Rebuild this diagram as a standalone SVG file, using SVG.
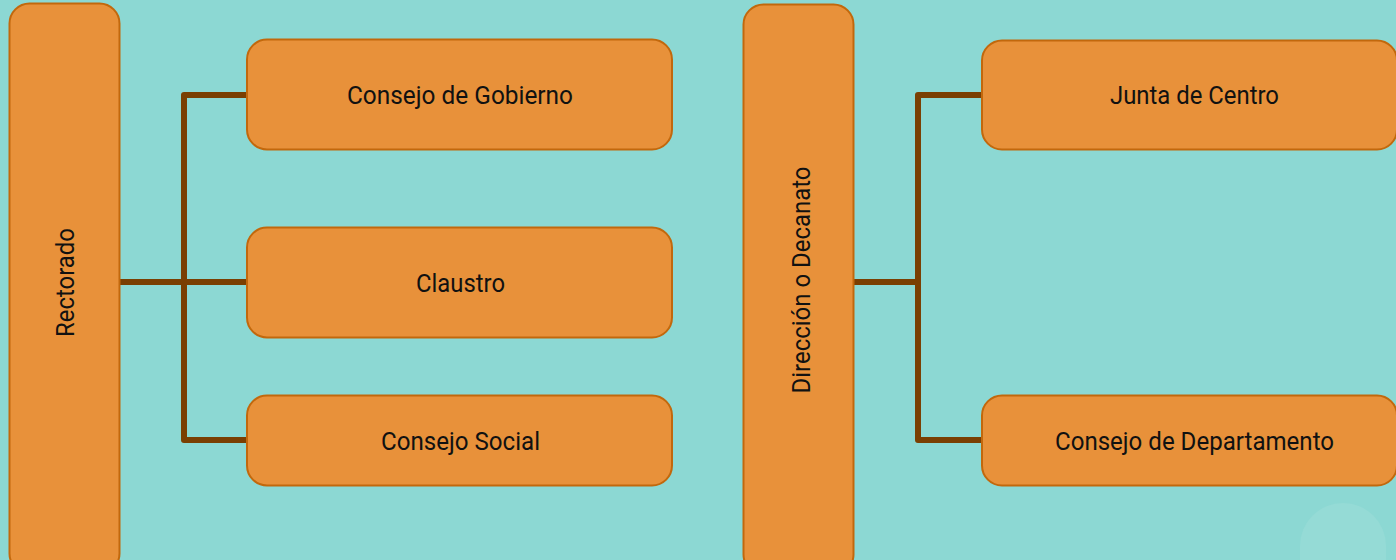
<svg xmlns="http://www.w3.org/2000/svg" width="1396" height="560" viewBox="0 0 1396 560">
<style>
.box{fill:#e8913a;stroke:#c2680c;stroke-width:2}
.lbl{font-family:Roboto,"Liberation Sans",sans-serif;font-size:26.5px;fill:#111;text-anchor:middle}
.conn{fill:none;stroke:#7a3f02;stroke-width:6;stroke-linejoin:round}
</style>
<rect x="0" y="0" width="1396" height="560" fill="#8cd8d3"/>
<rect x="1300" y="503" width="86" height="100" rx="43" fill="#95dbd6"/>
<g id="connectors">
<path class="conn" d="M120,282 H247 M247,95 H184 V440 H247"/>
<path class="conn" d="M854,282 H918 M982,95 H918 V440 H982"/>
</g>
<g id="rectorado">
<rect class="box" x="9.5" y="3.5" width="110" height="570" rx="20"/>
<text class="lbl" transform="translate(73.5,282.5) rotate(-90)" textLength="109" lengthAdjust="spacingAndGlyphs">Rectorado</text>
</g>
<g id="consejo-gobierno">
<rect class="box" x="247" y="39.5" width="425" height="110" rx="20"/>
<text class="lbl" x="460" y="103.5" textLength="226" lengthAdjust="spacingAndGlyphs">Consejo de Gobierno</text>
</g>
<g id="claustro">
<rect class="box" x="247" y="227.5" width="425" height="110" rx="20"/>
<text class="lbl" x="460.5" y="291.5" textLength="89" lengthAdjust="spacingAndGlyphs">Claustro</text>
</g>
<g id="consejo-social">
<rect class="box" x="247" y="395.5" width="425" height="90" rx="20"/>
<text class="lbl" x="460.5" y="449.5" textLength="159" lengthAdjust="spacingAndGlyphs">Consejo Social</text>
</g>
<g id="direccion">
<rect class="box" x="743.5" y="4.5" width="110" height="570" rx="20"/>
<text class="lbl" transform="translate(809.5,280) rotate(-90)" textLength="227" lengthAdjust="spacingAndGlyphs">Dirección o Decanato</text>
</g>
<g id="junta-centro">
<rect class="box" x="982" y="40.5" width="415" height="109" rx="20"/>
<text class="lbl" x="1194.5" y="103.5" textLength="169" lengthAdjust="spacingAndGlyphs">Junta de Centro</text>
</g>
<g id="consejo-departamento">
<rect class="box" x="982" y="395.5" width="415" height="90" rx="20"/>
<text class="lbl" x="1194.5" y="449.5" textLength="279" lengthAdjust="spacingAndGlyphs">Consejo de Departamento</text>
</g>
</svg>
